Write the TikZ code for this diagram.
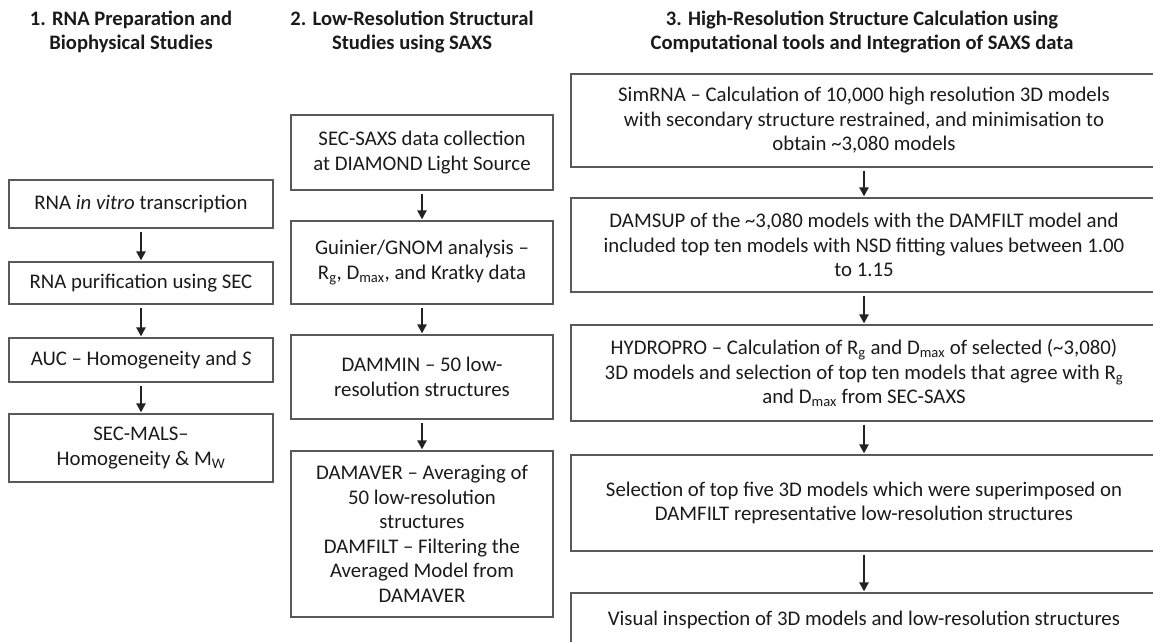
\documentclass[tikz,border=0pt]{standalone}
\usepackage{fontspec}
\setmainfont{Carlito}
\usetikzlibrary{arrows.meta}
\definecolor{boxgray}{HTML}{595959}
\definecolor{txt}{HTML}{1A1A1A}
\definecolor{arrc}{HTML}{222222}
\begin{document}
\begin{tikzpicture}[x=1pt,y=-1pt,
  box/.style={draw=boxgray, line width=1.2pt, align=center, inner sep=0pt, font=\fontsize{20.8}{24.5}\selectfont, text=txt},
  ttl/.style={align=center, font=\fontsize{20.6}{23.5}\selectfont\bfseries, text=txt},
  arr/.style={line width=2.6pt, draw=arrc, -{Triangle[width=9pt,length=9pt]}, shorten <=3pt, shorten >=1pt}]
\useasboundingbox (0,0) rectangle (1153,642);

\node[ttl] (t1) at (131,32) {1. RNA Preparation and\\Biophysical Studies};
\node[ttl] (t2) at (412,32) {2. Low-Resolution Structural\\Studies using SAXS};
\node[ttl] (t3) at (862,32) {3. High-Resolution Structure Calculation using\\Computational tools and Integration of SAXS data};

% column 1
\node[box, minimum width=264, minimum height=48] (a1) at (141,204) {RNA \textit{in vitro} transcription};
\node[box, minimum width=264, minimum height=42] (a2) at (141,283) {RNA purification using SEC};
\node[box, minimum width=264, minimum height=44] (a3) at (141,360) {AUC – Homogeneity and \textit{S}};
\node[box, minimum width=264, minimum height=68] (a4) at (141,448) {SEC-MALS–\\Homogeneity \& M\textsubscript{W}};

% column 2
\node[box, minimum width=262, minimum height=75] (b1) at (422,152.5) {SEC-SAXS data collection\\at DIAMOND Light Source};
\node[box, minimum width=262, minimum height=83] (b2) at (422,262.5) {Guinier/GNOM analysis –\\R\textsubscript{g}, D\textsubscript{max}, and Kratky data};
\node[box, minimum width=262, minimum height=84] (b3) at (422,377) {DAMMIN – 50 low-\\resolution structures};
\node[box, minimum width=262, minimum height=166] (b4) at (422,534) {DAMAVER – Averaging of\\50 low-resolution\\structures\\DAMFILT – Filtering the\\Averaged Model from\\DAMAVER};

% column 3
\node[box, minimum width=586, minimum height=93] (c1) at (864,120.5) {SimRNA – Calculation of 10,000 high resolution 3D models\\with secondary structure restrained, and minimisation to\\obtain \textasciitilde3,080 models};
\node[box, minimum width=586, minimum height=94] (c2) at (864,245) {DAMSUP of the \textasciitilde3,080 models with the DAMFILT model and\\included top ten models with NSD fitting values between 1.00\\to 1.15};
\node[box, minimum width=586, minimum height=96] (c3) at (864,373) {HYDROPRO – Calculation of R\textsubscript{g} and D\textsubscript{max} of selected (\textasciitilde3,080)\\3D models and selection of top ten models that agree with R\textsubscript{g}\\and D\textsubscript{max} from SEC-SAXS};
\node[box, minimum width=586, minimum height=96] (c4) at (864,503) {Selection of top five 3D models which were superimposed on\\DAMFILT representative low-resolution structures};
\node[box, minimum width=586, minimum height=54] (c5) at (864,620) {Visual inspection of 3D models and low-resolution structures};

\draw[arr] (a1) -- (a2);
\draw[arr] (a2) -- (a3);
\draw[arr] (a3) -- (a4);
\draw[arr] (b1) -- (b2);
\draw[arr] (b2) -- (b3);
\draw[arr] (b3) -- (b4);
\draw[arr] (c1) -- (c2);
\draw[arr] (c2) -- (c3);
\draw[arr] (c3) -- (c4);
\draw[arr] (c4) -- (c5);
\end{tikzpicture}
\end{document}
